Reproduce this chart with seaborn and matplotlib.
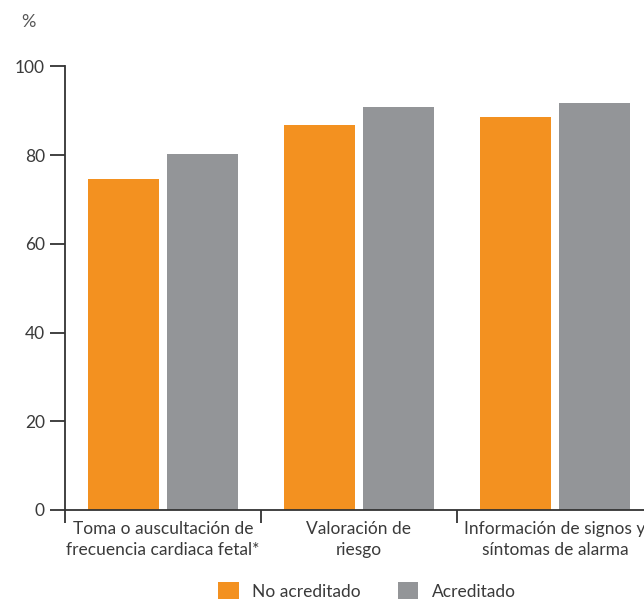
import matplotlib
matplotlib.use("Agg")
import matplotlib.pyplot as plt
import seaborn as sns
import pandas as pd
from matplotlib.patches import Patch
from matplotlib.ticker import FixedLocator

categories = ["Toma o auscultación de\nfrecuencia cardiaca fetal*",
              "Valoración de\nriesgo",
              "Información de signos y\nsíntomas de alarma"]
series = ["No acreditado", "Acreditado"]
no_acreditado = [74.6, 86.8, 88.6]
acreditado = [80.3, 90.9, 91.8]
yticks = [0, 20, 40, 60, 80, 100]

colors = ["#F39120", "#939598"]
text_color = "#3a3a3a"

df = pd.DataFrame({
    "cat": categories * 2,
    "serie": [series[0]] * 3 + [series[1]] * 3,
    "val": no_acreditado + acreditado,
})

sns.set_theme(style="white")
plt.rcParams["font.family"] = ["Lato", "DejaVu Sans"]
plt.rcParams["font.weight"] = "normal"

W, H = 644, 599
fig = plt.figure(figsize=(W / 100, H / 100), dpi=100)
ax = fig.add_axes([65 / W, (H - 510) / H, (653 - 65) / W, (510 - 66.5) / H])

sns.barplot(data=df, x="cat", y="val", hue="serie", order=categories,
            hue_order=series, palette=colors, width=0.8, gap=0.09,
            saturation=1, legend=False, linewidth=0, ax=ax)

ax.set_xlim(-0.5, 2.5)
ax.set_ylim(0, 100)
ax.set_yticks(yticks)
ax.set_yticklabels([str(t) for t in yticks])
ax.set_xlabel("")
ax.set_ylabel("")

for s in ["top", "right"]:
    ax.spines[s].set_visible(False)
for s in ["left", "bottom"]:
    ax.spines[s].set_color("#333333")
    ax.spines[s].set_linewidth(1.3)

ax.tick_params(axis="y", which="major", left=True, length=10.5, width=1.3,
               color="#333333", pad=4, labelsize=12.5, labelcolor=text_color)
ax.tick_params(axis="x", which="major", bottom=False, length=0, pad=8,
               labelsize=12.5, labelcolor=text_color)
ax.xaxis.set_minor_locator(FixedLocator([-0.5, 0.5, 1.5, 2.5]))
ax.tick_params(axis="x", which="minor", bottom=True, length=9, width=1.3,
               color="#333333")
for lab in ax.get_xticklabels():
    lab.set_linespacing(1.35)

fig.text(28 / W, 1 - 22 / H, "%", ha="center", va="center", fontsize=13,
         color="#555555")

handles = [Patch(facecolor=c, edgecolor="none", label=l) for c, l in zip(colors, series)]
fig.legend(handles=handles, loc="center", bbox_to_anchor=(367 / W, 1 - 591 / H),
           ncol=2, frameon=False, fontsize=12.5, handlelength=1.2, handleheight=1.1,
           handletextpad=0.8, columnspacing=2.1, labelcolor=text_color)

fig.savefig("out.png", dpi=100)
